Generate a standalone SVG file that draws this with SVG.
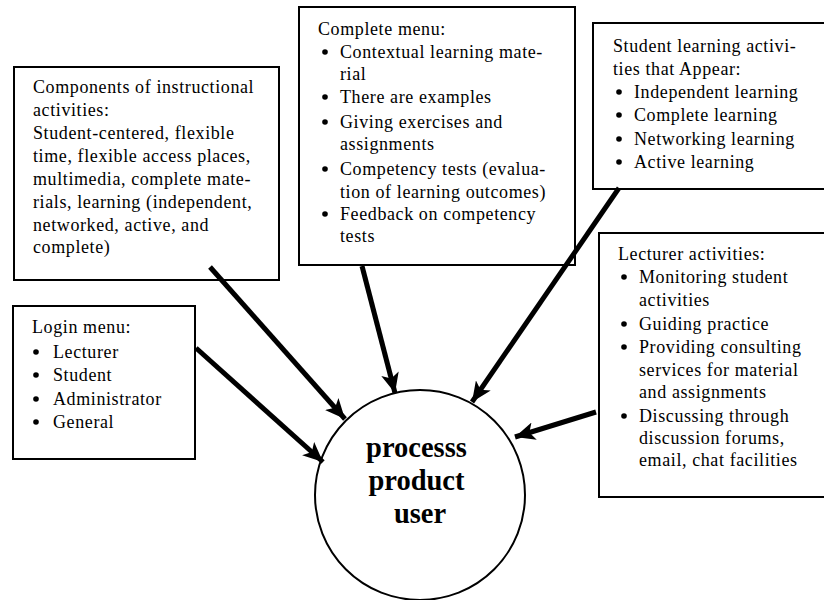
<svg xmlns="http://www.w3.org/2000/svg" width="824" height="600" viewBox="0 0 824 600">
  <style>
    .box { fill: #fff; stroke: #000; stroke-width: 2; }
    .txt { font-family: "Liberation Serif", "Times New Roman", serif; font-size: 18px; letter-spacing: 0.6px; fill: #000; }
    .dot { fill: #000; }
    .hub { fill: #fff; stroke: #000; stroke-width: 2; }
    .hubtxt { font-family: "Liberation Serif", "Times New Roman", serif; font-size: 28.5px; font-weight: bold; fill: #000; text-anchor: middle; }
    .arrow { stroke: #000; stroke-width: 5; fill: none; marker-end: url(#head); }
  </style>
  <defs>
    <marker id="head" markerUnits="userSpaceOnUse" markerWidth="22" markerHeight="18" refX="20" refY="9" orient="auto">
      <path d="M0,0 L20,9 L0,18 L5,9 Z" fill="#000"/>
    </marker>
  </defs>
  <rect width="824" height="600" fill="#fff"/>

  <g id="components">
    <rect class="box" x="14" y="67" width="265" height="213"/>
    <text class="txt">
      <tspan x="33" y="93">Components of instructional</tspan>
      <tspan x="33" y="116">activities:</tspan>
      <tspan x="33" y="139">Student-centered, flexible</tspan>
      <tspan x="33" y="162">time, flexible access places,</tspan>
      <tspan x="33" y="185">multimedia, complete mate-</tspan>
      <tspan x="33" y="208">rials, learning (independent,</tspan>
      <tspan x="33" y="231">networked, active, and</tspan>
      <tspan x="33" y="253">complete)</tspan>
    </text>
  </g>

  <g id="complete-menu">
    <rect class="box" x="299" y="7" width="276" height="258"/>
    <g class="dot">
      <circle cx="325" cy="52" r="2.8"/>
      <circle cx="325" cy="97" r="2.8"/>
      <circle cx="325" cy="122" r="2.8"/>
      <circle cx="325" cy="169" r="2.8"/>
      <circle cx="325" cy="214" r="2.8"/>
    </g>
    <text class="txt">
      <tspan x="318" y="35">Complete menu:</tspan>
      <tspan x="340" y="58">Contextual learning mate-</tspan>
      <tspan x="340" y="80">rial</tspan>
      <tspan x="340" y="103">There are examples</tspan>
      <tspan x="340" y="128">Giving exercises and</tspan>
      <tspan x="340" y="150">assignments</tspan>
      <tspan x="340" y="175">Competency tests (evalua-</tspan>
      <tspan x="340" y="198">tion of learning outcomes)</tspan>
      <tspan x="340" y="220">Feedback on competency</tspan>
      <tspan x="340" y="242">tests</tspan>
    </text>
  </g>

  <g id="student-activities">
    <rect class="box" x="593" y="23" width="240" height="166"/>
    <g class="dot">
      <circle cx="619" cy="92" r="2.8"/>
      <circle cx="619" cy="115" r="2.8"/>
      <circle cx="619" cy="139" r="2.8"/>
      <circle cx="619" cy="162" r="2.8"/>
    </g>
    <text class="txt">
      <tspan x="613" y="52">Student learning activi-</tspan>
      <tspan x="613" y="75">ties that Appear:</tspan>
      <tspan x="634" y="98">Independent learning</tspan>
      <tspan x="634" y="121">Complete learning</tspan>
      <tspan x="634" y="145">Networking learning</tspan>
      <tspan x="634" y="168">Active learning</tspan>
    </text>
  </g>

  <g id="lecturer-activities">
    <rect class="box" x="599" y="233" width="240" height="264"/>
    <g class="dot">
      <circle cx="624" cy="277" r="2.8"/>
      <circle cx="624" cy="324" r="2.8"/>
      <circle cx="624" cy="347" r="2.8"/>
      <circle cx="624" cy="416" r="2.8"/>
    </g>
    <text class="txt">
      <tspan x="618" y="260">Lecturer activities:</tspan>
      <tspan x="639" y="283">Monitoring student</tspan>
      <tspan x="639" y="306">activities</tspan>
      <tspan x="639" y="330">Guiding practice</tspan>
      <tspan x="639" y="353">Providing consulting</tspan>
      <tspan x="639" y="376">services for material</tspan>
      <tspan x="639" y="398">and assignments</tspan>
      <tspan x="639" y="422">Discussing through</tspan>
      <tspan x="639" y="444">discussion forums,</tspan>
      <tspan x="639" y="466">email, chat facilities</tspan>
    </text>
  </g>

  <g id="login-menu">
    <rect class="box" x="13" y="306" width="182" height="153"/>
    <g class="dot">
      <circle cx="36" cy="352" r="2.8"/>
      <circle cx="36" cy="375" r="2.8"/>
      <circle cx="36" cy="399" r="2.8"/>
      <circle cx="36" cy="422" r="2.8"/>
    </g>
    <text class="txt">
      <tspan x="32" y="333">Login menu:</tspan>
      <tspan x="53" y="358">Lecturer</tspan>
      <tspan x="53" y="381">Student</tspan>
      <tspan x="53" y="405">Administrator</tspan>
      <tspan x="53" y="428">General</tspan>
    </text>
  </g>

  <g id="process-hub">
    <circle class="hub" cx="420" cy="495" r="105"/>
    <text class="hubtxt">
      <tspan x="420" y="457">processs</tspan>
      <tspan x="420" y="490">product</tspan>
      <tspan x="420" y="523">user</tspan>
    </text>
  </g>

  <g id="connectors">
    <line class="arrow" x1="210" y1="267" x2="345" y2="419"/>
    <line class="arrow" x1="196" y1="348" x2="323" y2="462"/>
    <line class="arrow" x1="362" y1="266" x2="395" y2="393"/>
    <line class="arrow" x1="619" y1="188" x2="472" y2="402"/>
    <line class="arrow" x1="596" y1="412" x2="515" y2="437"/>
  </g>
</svg>
